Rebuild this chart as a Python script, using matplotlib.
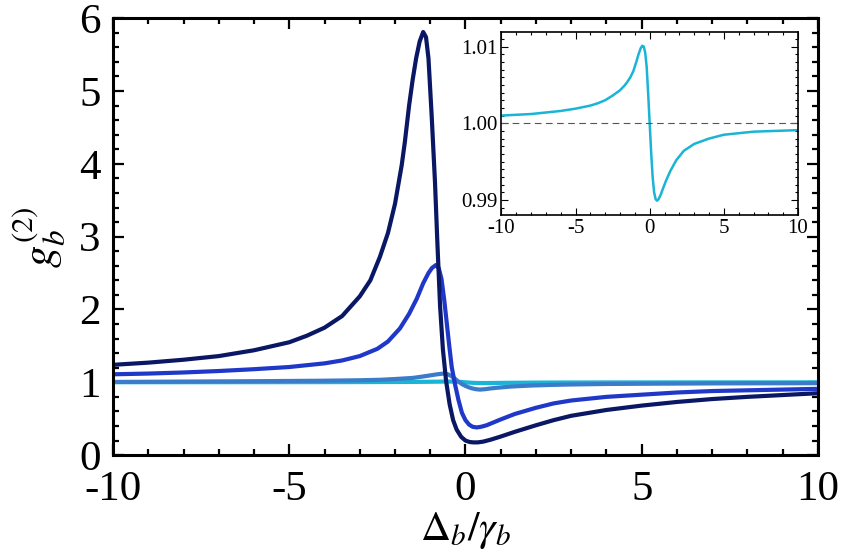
import numpy as np
import matplotlib
matplotlib.use("Agg")
import matplotlib.pyplot as plt
from matplotlib.ticker import MultipleLocator

plt.rcParams['font.family'] = ['Liberation Serif', 'DejaVu Serif']
plt.rcParams['mathtext.fontset'] = 'stix'
plt.rcParams['axes.unicode_minus'] = False

# curve 1 (darkest)
x1 = [-10, -9, -8, -7, -6, -5, -4.5, -4, -3.5, -3, -2.7, -2.43, -2.2, -2.0, -1.81, -1.72,
      -1.6, -1.5, -1.4, -1.3, -1.2, -1.12, -1.05, -0.96, -0.865, -0.80, -0.72,
      -0.64, -0.55, -0.45, -0.35, -0.25, -0.12, 0.0, 0.12, 0.22, 0.35, 0.5, 0.7, 1.0, 1.4,
      2, 2.5, 3, 4, 5, 6, 7, 8, 9, 10]
y1 = [1.24, 1.27, 1.31, 1.36, 1.44, 1.55, 1.64, 1.75, 1.91, 2.18, 2.40, 2.72, 3.05, 3.45, 3.98, 4.30,
      4.80, 5.15, 5.45, 5.68, 5.81, 5.74, 5.45, 4.67, 3.75, 2.95, 2.04,
      1.45, 1.02, 0.70, 0.48, 0.35, 0.25, 0.20, 0.18, 0.175, 0.175, 0.185, 0.21, 0.255, 0.32,
      0.41, 0.48, 0.54, 0.62, 0.68, 0.73, 0.77, 0.80, 0.825, 0.85]

# curve 2
x2 = [-10, -9, -8, -7, -6, -5, -4, -3.5, -3, -2.5, -2.2, -1.86, -1.6, -1.38, -1.2, -1.05, -0.95,
      -0.84, -0.76, -0.68, -0.6, -0.53, -0.46, -0.39, -0.3, -0.2, -0.1, 0.0, 0.1, 0.2, 0.32,
      0.45, 0.6, 0.8, 1.0, 1.4, 2, 2.5, 3, 4, 5, 6, 7, 8, 9, 10]
y2 = [1.11, 1.12, 1.135, 1.155, 1.18, 1.21, 1.26, 1.30, 1.36, 1.46, 1.56, 1.74, 1.94, 2.15, 2.36, 2.50, 2.57,
      2.61, 2.57, 2.42, 2.12, 1.81, 1.50, 1.21, 0.98, 0.76, 0.58, 0.48, 0.42, 0.39, 0.38,
      0.39, 0.41, 0.45, 0.49, 0.565, 0.65, 0.71, 0.75, 0.80, 0.83, 0.86, 0.88, 0.89, 0.90, 0.91]

# curve 3
x3 = [-10, -8, -6, -4, -3, -2.4, -2, -1.5, -1.2, -1.0, -0.8, -0.63, -0.5, -0.4, -0.3, -0.2,
      -0.1, 0.0, 0.1, 0.2, 0.3, 0.41, 0.55, 0.7, 0.89, 1.3, 1.83, 2.5, 3, 4, 5, 7, 10]
y3 = [1.005, 1.01, 1.015, 1.022, 1.028, 1.035, 1.045, 1.06, 1.08, 1.095, 1.11, 1.12, 1.11, 1.085,
      1.05, 1.01, 0.975, 0.95, 0.93, 0.915, 0.905, 0.90, 0.905, 0.915, 0.925, 0.942, 0.955,
      0.965, 0.97, 0.977, 0.98, 0.985, 0.988]

# curve 4 (cyan, also shown in the inset)
x4 = [-10, -9, -8, -7, -6, -5, -4, -3.5, -3, -2.5, -2, -1.7, -1.5, -1.3, -1.1, -0.9, -0.75,
      -0.6, -0.5, -0.4, -0.3, -0.2, -0.1, 0, 0.1, 0.2, 0.3, 0.4, 0.5, 0.6, 0.75, 0.9, 1.1,
      1.4, 1.8, 2.3, 3, 4, 5, 6, 7, 8.5, 10]
y4 = [1.0010, 1.0011, 1.0012, 1.0014, 1.0016, 1.0019, 1.0023, 1.0026, 1.0030, 1.0036, 1.0043,
      1.0049, 1.0054, 1.0060, 1.0068, 1.0080, 1.0090, 1.0098, 1.0101, 1.0100, 1.0092, 1.0073,
      1.0038, 1.0000, 0.9962, 0.9930, 0.9910, 0.9901, 0.9899, 0.9901, 0.9907, 0.9915, 0.9925,
      0.9938, 0.9952, 0.9964, 0.9973, 0.9980, 0.9985, 0.9987, 0.9989, 0.9990, 0.9991]

colors = ['#0a1764', '#2038c8', '#3a7cc9', '#1ab4d6']

fig = plt.figure(figsize=(8.44, 5.51), dpi=100)
ax = fig.add_axes([0.134, 0.174, 0.835, 0.793])

ax.plot(x4, y4, color=colors[3], lw=3)
ax.plot(x3, y3, color=colors[2], lw=3)
ax.plot(x2, y2, color=colors[1], lw=3)
ax.plot(x1, y1, color=colors[0], lw=3)

ax.set_xlim(-10, 10)
ax.set_ylim(0, 6)
ax.xaxis.set_major_locator(MultipleLocator(5))
ax.xaxis.set_minor_locator(MultipleLocator(1))
ax.yaxis.set_major_locator(MultipleLocator(1))
ax.yaxis.set_minor_locator(MultipleLocator(0.2))
ax.tick_params(which='both', direction='in', top=True, right=True, width=1.6)
ax.tick_params(which='major', length=8, labelsize=31)
ax.tick_params(which='minor', length=4)
ax.tick_params(axis='x', pad=11)
ax.tick_params(axis='y', pad=9)
for s in ax.spines.values():
    s.set_linewidth(2.2)
ax.set_xlabel(r'$\Delta_b/\gamma_b$', fontsize=30, labelpad=1)
ax.set_ylabel(r'$g_b^{(2)}$', fontsize=32, labelpad=8)

# inset
ins = fig.add_axes([0.594, 0.610, 0.3515, 0.332])
ins.plot(x4, y4, color=colors[3], lw=1.8)
ins.axhline(1.0, color='#555555', lw=0.8, ls=(0, (6, 4)))
ins.set_xlim(-10, 10)
ins.set_ylim(0.98805, 1.0119)
ins.xaxis.set_major_locator(MultipleLocator(5))
ins.xaxis.set_minor_locator(MultipleLocator(1))
ins.set_yticks([0.99, 1.00, 1.01])
ins.set_yticklabels(['0.99', '1.00', '1.01'])
ins.yaxis.set_minor_locator(MultipleLocator(0.001))
ins.tick_params(which='both', direction='in', top=True, right=True, width=0.8)
ins.tick_params(which='major', length=5, labelsize=15, pad=3)
ins.tick_params(which='minor', length=2.5)
for s in ins.spines.values():
    s.set_linewidth(1.2)

fig.savefig('out.png', dpi=100)
